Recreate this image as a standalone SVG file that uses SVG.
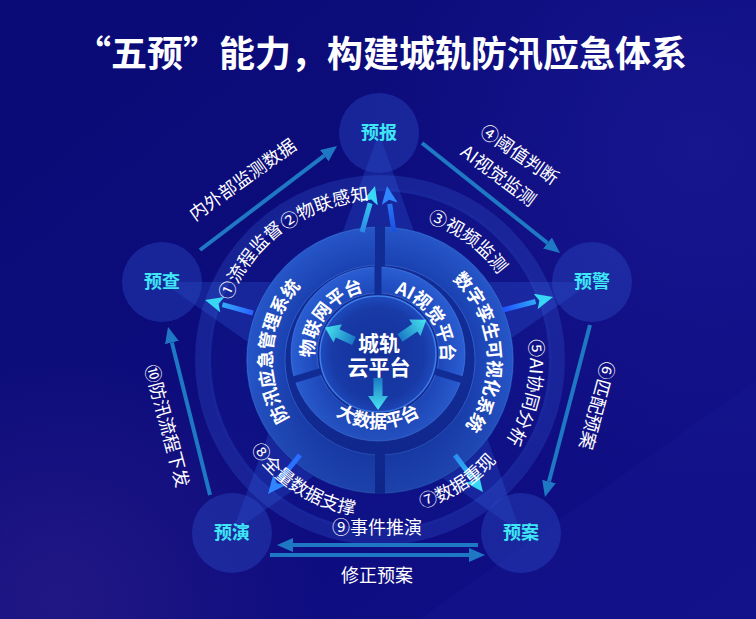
<svg xmlns="http://www.w3.org/2000/svg" width="756" height="619" viewBox="0 0 756 619">
<defs>
<style>
.t{font-family:"Noto Sans CJK SC","Noto Sans",sans-serif}
.title{font-size:36px;font-weight:700;fill:#fff}
.lbl{font-size:18px;fill:#fff}
.rt{font-size:18px;font-weight:700;fill:#fff}
.nt{font-size:18px;font-weight:700;fill:#3ee6f6}
.ncirc{fill:#2b4ac4;fill-opacity:0.42}
.oa{stroke:#1e78c4;stroke-width:4;fill:none}
.ia{stroke-width:5;fill:none}
</style>
<linearGradient id="bg" x1="0" y1="0" x2="1" y2="1">
<stop offset="0" stop-color="#0a0b76"/>
<stop offset="0.55" stop-color="#0d0c7e"/>
<stop offset="1" stop-color="#110f86"/>
</linearGradient>
<radialGradient id="bgl" cx="700" cy="150" r="350" gradientUnits="userSpaceOnUse">
<stop offset="0" stop-color="#1b1a96" stop-opacity="0.7"/>
<stop offset="1" stop-color="#1b1a96" stop-opacity="0"/>
</radialGradient>
<radialGradient id="bgp" cx="60" cy="600" r="260" gradientUnits="userSpaceOnUse">
<stop offset="0" stop-color="#261a86" stop-opacity="0.8"/>
<stop offset="1" stop-color="#261a86" stop-opacity="0"/>
</radialGradient>
<radialGradient id="g2" cx="380" cy="360" r="133" gradientUnits="userSpaceOnUse">
<stop offset="0.7" stop-color="#1a40b0"/>
<stop offset="1" stop-color="#2656c8"/>
</radialGradient>
<radialGradient id="gp" cx="378" cy="354" r="87" gradientUnits="userSpaceOnUse">
<stop offset="0.68" stop-color="#1d46b8"/>
<stop offset="1" stop-color="#2a5ed2"/>
</radialGradient>
<radialGradient id="gi" cx="378" cy="354" r="58" gradientUnits="userSpaceOnUse">
<stop offset="0" stop-color="#132f98"/>
<stop offset="0.8" stop-color="#183ba8"/>
<stop offset="1" stop-color="#1f4abd"/>
</radialGradient>
<linearGradient id="shade" x1="0" y1="0" x2="0" y2="1">
<stop offset="0.55" stop-color="#0a1a70" stop-opacity="0"/>
<stop offset="1" stop-color="#0a1a70" stop-opacity="0.35"/>
</linearGradient>
<linearGradient id="ca" x1="0" y1="0" x2="1" y2="0">
<stop offset="0" stop-color="#1a78c4"/>
<stop offset="1" stop-color="#48e6f0"/>
</linearGradient>
<linearGradient id="gb1" gradientUnits="userSpaceOnUse" x1="362" y1="232" x2="375" y2="190"><stop offset="0" stop-color="#2a8ae6"/><stop offset="1" stop-color="#3be0f5"/></linearGradient>
<linearGradient id="gb2" gradientUnits="userSpaceOnUse" x1="394" y1="232" x2="387" y2="190"><stop offset="0" stop-color="#1a4fe0"/><stop offset="1" stop-color="#2f86ff"/></linearGradient>
<linearGradient id="gb3" gradientUnits="userSpaceOnUse" x1="253" y1="313" x2="205" y2="300"><stop offset="0" stop-color="#2a60ff"/><stop offset="1" stop-color="#38d8f5"/></linearGradient>
<linearGradient id="gb4" gradientUnits="userSpaceOnUse" x1="503" y1="310" x2="553" y2="297"><stop offset="0" stop-color="#2050ff"/><stop offset="1" stop-color="#38d8f5"/></linearGradient>
<linearGradient id="gb5" gradientUnits="userSpaceOnUse" x1="300" y1="455" x2="268" y2="494"><stop offset="0" stop-color="#2a6cff"/><stop offset="1" stop-color="#2f86ff"/></linearGradient>
<linearGradient id="gb6" gradientUnits="userSpaceOnUse" x1="455" y1="455" x2="483" y2="492"><stop offset="0" stop-color="#2a8cf0"/><stop offset="1" stop-color="#38d8f5"/></linearGradient>
<marker id="mo" viewBox="0 0 16 14" refX="0" refY="7" markerWidth="16" markerHeight="14" markerUnits="userSpaceOnUse" orient="auto"><path d="M0,0 L16,7 L0,14 z" fill="#1e78c4"/></marker>
<marker id="mc" viewBox="0 0 18 16" refX="0" refY="8" markerWidth="18" markerHeight="16" markerUnits="userSpaceOnUse" orient="auto"><path d="M0,0 L18,8 L0,16 L4,8 z" fill="#38d8f5"/></marker>
<marker id="mb" viewBox="0 0 18 16" refX="0" refY="8" markerWidth="18" markerHeight="16" markerUnits="userSpaceOnUse" orient="auto"><path d="M0,0 L18,8 L0,16 L4,8 z" fill="#2f86ff"/></marker>
<mask id="m2" maskUnits="userSpaceOnUse" x="0" y="0" width="756" height="619">
<rect x="0" y="0" width="756" height="619" fill="#fff"/>
<rect x="375" y="210" width="10" height="300" fill="#000"/>
</mask>
<mask id="mp" maskUnits="userSpaceOnUse" x="0" y="0" width="756" height="619">
<rect x="0" y="0" width="756" height="619" fill="#fff"/>
<rect x="0" y="-3.5" width="100" height="7" fill="#000" transform="translate(378,354) rotate(270)"/>
<rect x="0" y="-3.5" width="100" height="7" fill="#000" transform="translate(378,354) rotate(17)"/>
<rect x="0" y="-3.5" width="100" height="7" fill="#000" transform="translate(378,354) rotate(163)"/>
</mask>
<path id="p1" d="M231.3,421.6 A161,161 0 0 1 401.0,200.4"/>
<path id="p2" d="M222.4,332.2 A160,160 0 0 1 482.8,237.4"/>
<path id="p3" d="M321.8,226.1 A146,146 0 0 1 525.1,376.5"/>
<path id="p5" d="M481.3,249.4 A150,150 0 0 1 425.1,503.1"/>
<path id="p7" d="M308.7,496.5 A154,154 0 0 0 533.9,353.5"/>
<path id="p8" d="M223.2,353.2 A157,157 0 0 0 452.5,499.3"/>
<path id="pl" d="M318.1,448.5 A108,108 0 0 1 334.4,262.1"/>
<path id="pr" d="M425.6,262.1 A108,108 0 0 1 441.9,448.5"/>
<path id="pa" d="M319.1,379.0 A64,64 0 0 1 385.8,290.5"/>
<path id="pb" d="M373.6,291.2 A63,63 0 0 1 434.6,381.6"/>
<path id="pc" d="M313.9,391 A74,74 0 0 0 442.1,391"/>
<path id="carrow" d="M0,-4.5 L18,-4.5 L18,-10 L32,0 L18,10 L18,4.5 L0,4.5 z"/>
</defs>

<g id="background">
<rect width="756" height="619" fill="url(#bg)"/>
<rect width="756" height="619" fill="url(#bgl)"/>
<rect width="756" height="619" fill="url(#bgp)"/>
<polygon points="756,380 756,619 420,619" fill="#1a1a96" fill-opacity="0.3"/>
</g>

<g id="title">
<text class="t title" x="381" y="67" text-anchor="middle">“五预”能力，构建城轨防汛应急体系</text>
</g>

<g id="halo">
<circle cx="380" cy="360" r="152" fill="none" stroke="#2a4ed0" stroke-opacity="0.08" stroke-width="40"/>
<circle cx="380" cy="360" r="177" fill="none" stroke="#3a68e0" stroke-opacity="0.24" stroke-width="16"/>
</g>

<g id="star">
<polygon points="379,133 521,533 162,282 592,282 232,533" fill="#3a7cff" fill-opacity="0.2"/>
</g>

<g id="core">
<circle cx="380" cy="360" r="134" fill="#122c96"/>
<path d="M380,227 A133,133 0 1 1 380,493 A133,133 0 1 1 380,227 Z M380,265 A95,95 0 1 0 380,455 A95,95 0 1 0 380,265 Z" fill="url(#g2)" fill-rule="evenodd" stroke="#4d86ee" stroke-opacity="0.45" stroke-width="1" mask="url(#m2)"/>
<path d="M378,267 A87,87 0 1 1 378,441 A87,87 0 1 1 378,267 Z M378,293 A61,61 0 1 0 378,415 A61,61 0 1 0 378,293 Z" fill="url(#gp)" fill-rule="evenodd" stroke="#5a95f2" stroke-opacity="0.45" stroke-width="1" mask="url(#mp)"/>
<circle cx="378" cy="354" r="58" fill="url(#gi)" stroke="#3f7fe8" stroke-width="1.5"/>
<circle cx="380" cy="360" r="134" fill="url(#shade)"/>
<text class="t rt"><textPath href="#pl" startOffset="50%" text-anchor="middle">防汛应急管理系统</textPath></text>
<text class="t rt"><textPath href="#pr" startOffset="50%" text-anchor="middle">数字孪生可视化系统</textPath></text>
<text class="t rt"><textPath href="#pa" startOffset="50%" text-anchor="middle">物联网平台</textPath></text>
<text class="t rt"><textPath href="#pb" startOffset="50%" text-anchor="middle">AI视觉平台</textPath></text>
<text class="t rt"><textPath href="#pc" startOffset="50%" text-anchor="middle">大数据平台</textPath></text>
<use href="#carrow" fill="url(#ca)" transform="translate(354,341) rotate(204.9)"/>
<use href="#carrow" fill="url(#ca)" transform="translate(400,338) rotate(-34.7)"/>
<use href="#carrow" fill="url(#ca)" transform="translate(378,378) rotate(90)"/>
<text class="t rt" x="379" y="351" text-anchor="middle" style="font-size:21px">城轨</text>
<text class="t rt" x="379" y="375" text-anchor="middle" style="font-size:21px">云平台</text>
</g>

<g id="connectors">
<line class="oa" x1="200" y1="250" x2="324.3" y2="155.7" marker-end="url(#mo)"/>
<line class="oa" x1="422" y1="143" x2="547.5" y2="243.0" marker-end="url(#mo)"/>
<line class="oa" x1="590" y1="325" x2="549.0" y2="481.5" marker-end="url(#mo)"/>
<line class="oa" x1="478" y1="545" x2="293" y2="545" marker-end="url(#mo)"/>
<line class="oa" x1="270" y1="555" x2="469" y2="555" marker-end="url(#mo)"/>
<line class="oa" x1="210" y1="495" x2="171.9" y2="342.5" marker-end="url(#mo)"/>
<line class="ia" stroke="url(#gb1)" x1="362" y1="232" x2="370.1" y2="203.3" marker-end="url(#mc)"/>
<line class="ia" stroke="url(#gb2)" x1="394" y1="232" x2="389.7" y2="203.8" marker-end="url(#mb)"/>
<line class="ia" stroke="url(#gb3)" x1="253" y1="313" x2="222.4" y2="304.7" marker-end="url(#mc)"/>
<line class="ia" stroke="url(#gb4)" x1="503" y1="310" x2="535.6" y2="301.5" marker-end="url(#mc)"/>
<line class="ia" stroke="url(#gb5)" x1="300" y1="455" x2="279.4" y2="480.1" marker-end="url(#mb)"/>
<line class="ia" stroke="url(#gb6)" x1="455" y1="455" x2="472.1" y2="477.7" marker-end="url(#mc)"/>
</g>

<g id="node-yubao"><circle class="ncirc" cx="379" cy="133" r="40"/><text class="t nt" x="379" y="139" text-anchor="middle">预报</text></g>
<g id="node-yucha"><circle class="ncirc" cx="162" cy="282" r="40"/><text class="t nt" x="162" y="288" text-anchor="middle">预查</text></g>
<g id="node-yujing"><circle class="ncirc" cx="592" cy="282" r="40"/><text class="t nt" x="592" y="288" text-anchor="middle">预警</text></g>
<g id="node-yuyan"><circle class="ncirc" cx="232" cy="533" r="40"/><text class="t nt" x="232" y="539" text-anchor="middle">预演</text></g>
<g id="node-yuan"><circle class="ncirc" cx="521" cy="533" r="40"/><text class="t nt" x="521" y="539" text-anchor="middle">预案</text></g>

<g id="labels">
<text class="t lbl" transform="translate(242.5,179.5) rotate(-35.5)" x="0" y="6.5" text-anchor="middle">内外部监测数据</text>
<text class="t lbl" transform="translate(519.5,154.5) rotate(34.7)" x="0" y="6.5" text-anchor="middle">④阈值判断</text>
<text class="t lbl" transform="translate(498.5,175.5) rotate(36.7)" x="0" y="6.5" text-anchor="middle">AI视觉监测</text>
<text class="t lbl" transform="translate(597,405.5) rotate(104.9)" x="0" y="6.5" text-anchor="middle">⑥匹配预案</text>
<text class="t lbl" transform="translate(167,426) rotate(75)" x="0" y="6.5" text-anchor="middle">⑩防汛流程下发</text>
<text class="t lbl" x="377" y="533.5" text-anchor="middle">⑨事件推演</text>
<text class="t lbl" x="377" y="581.5" text-anchor="middle">修正预案</text>
<text class="t lbl"><textPath href="#p1" startOffset="50%" text-anchor="middle">①流程监督</textPath></text>
<text class="t lbl"><textPath href="#p2" startOffset="50%" text-anchor="middle">②物联感知</textPath></text>
<text class="t lbl"><textPath href="#p3" startOffset="50%" text-anchor="middle">③视频监测</textPath></text>
<text class="t lbl"><textPath href="#p5" startOffset="50%" text-anchor="middle">⑤AI协同分析</textPath></text>
<text class="t lbl"><textPath href="#p7" startOffset="50%" text-anchor="middle">⑦数据重现</textPath></text>
<text class="t lbl"><textPath href="#p8" startOffset="50%" text-anchor="middle">⑧全量数据支撑</textPath></text>
</g>
</svg>
